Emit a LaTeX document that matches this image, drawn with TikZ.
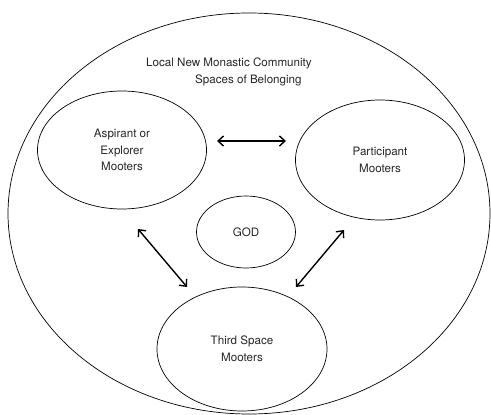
\documentclass[tikz,border=0pt]{standalone}
\usepackage{fontspec}
\setmainfont{TeX Gyre Heros}
\usetikzlibrary{shapes.geometric,arrows.meta}
\begin{document}
\begin{tikzpicture}[x=1pt,y=-1pt,
  every node/.style={font=\fontsize{11.6}{16.5}\selectfont, text=black!85},
  oval/.style={draw, ellipse, inner sep=0pt, line width=0.7pt, align=center},
  title/.style={anchor=west, inner sep=0pt},
  link/.style={line width=1.4pt, {Straight Barb[length=5.5pt,width=10pt]}-{Straight Barb[length=5.5pt,width=10pt]}}]
\useasboundingbox (0,0) rectangle (491,415);
\node[oval, minimum width=482pt, minimum height=401pt] (outer) at (249,213.5) {};
\node[title] (title1) at (146,63) {Local New Monastic Community};
\node[title] (title2) at (195,80) {Spaces of Belonging};
\node[oval, minimum width=169pt, minimum height=118pt] (asp) at (122,150) {Aspirant or\\Explorer\\Mooters};
\node[oval, minimum width=169pt, minimum height=120pt] (par) at (380,160) {Participant\\Mooters};
\node[oval, minimum width=99pt, minimum height=72pt] (god) at (246,232) {GOD};
\node[oval, minimum width=170pt, minimum height=124pt] (third) at (242,349) {Third Space\\Mooters};
\coordinate (h1) at (217,141);
\coordinate (h2) at (286,141);
\coordinate (l1) at (138,229);
\coordinate (l2) at (187,287);
\coordinate (r1) at (344,230);
\coordinate (r2) at (296,287);
\draw[link] (h1) -- (h2);
\draw[link] (l1) -- (l2);
\draw[link] (r1) -- (r2);
\end{tikzpicture}
\end{document}
